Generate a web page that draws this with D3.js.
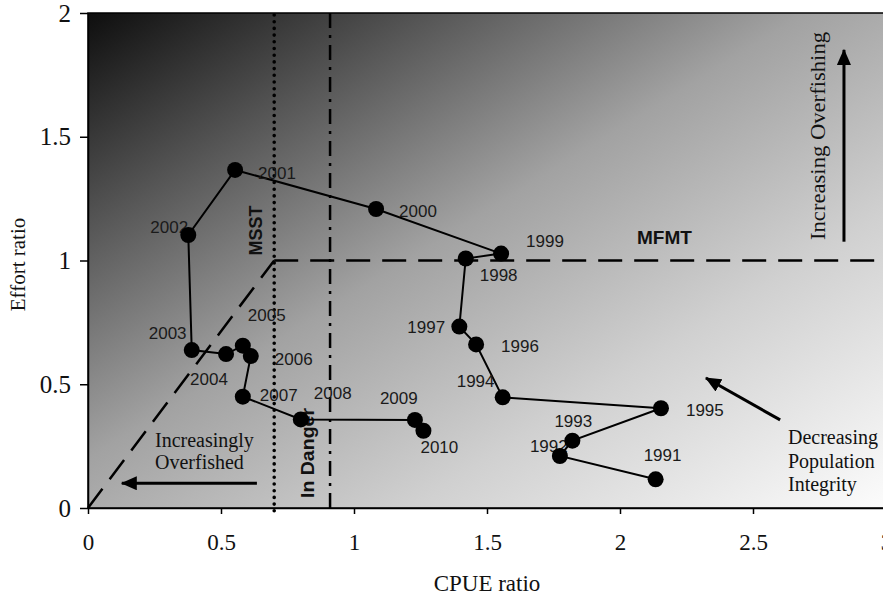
<!DOCTYPE html>
<html><head><meta charset="utf-8">
<script src="https://cdn.jsdelivr.net/npm/d3@7"></script>
<style>body{margin:0;background:#fff} svg{display:block}</style>
</head><body>
<svg id="chart" width="883" height="600"></svg>
<script>
// ---- data (points in the order the line connects them) ----
const yearLabels = ["1991","1992","1993","1995","1994","1996","1997","1998","1999","2000",
                    "2001","2002","2003","2004","2005","2006","2007","2008","2009","2010"];
const cpueRatio  = [2.134,1.774,1.821,2.154,1.559,1.459,1.396,1.420,1.553,1.083,
                    0.553,0.377,0.390,0.519,0.582,0.612,0.582,0.800,1.229,1.261];
const effortRatio= [0.116,0.210,0.272,0.403,0.447,0.661,0.733,1.008,1.028,1.208,
                    1.366,1.103,0.638,0.622,0.656,0.614,0.450,0.358,0.356,0.312];
const xTicks = [0,0.5,1,1.5,2,2.5,3];
const yTicks = [0,0.5,1,1.5,2];
const msst = 0.7;        // MSST (CPUE ratio)
const inDanger = 0.91;   // In Danger (CPUE ratio)
const mfmt = 1;          // MFMT (effort ratio)

// ---- layout ----
const svg = d3.select("#chart");
const x = d3.scaleLinear().domain([0,3]).range([88,886]);
const y = d3.scaleLinear().domain([0,2]).range([508,13]);

// label offsets in px (text left, vertical centre) relative to each point
const labelOff = {
  "1991":[-12,-24],"1992":[-30,-10],"1993":[-18,-20],"1995":[25,2],"1994":[-46,-16],
  "1996":[25,2],"1997":[-52,0],"1998":[14,17],"1999":[25,-13],"2000":[23,2],
  "2001":[23,3],"2002":[-38,-8],"2003":[-43,-17],"2004":[-36,25],"2005":[5,-31],
  "2006":[24,3],"2007":[17,-2],"2008":[13,-26],"2009":[-35,-22],"2010":[-3,16]
};

const defs = svg.append("defs");
const grad = defs.append("linearGradient").attr("id","bg")
  .attr("x1",0).attr("y1",0).attr("x2",1).attr("y2",1);
[[0,"#0e0e0e"],[0.22,"#575757"],[0.45,"#a2a2a2"],[0.7,"#d0d0d0"],[1,"#fcfcfc"]]
  .forEach(([o,c])=>grad.append("stop").attr("offset",o).attr("stop-color",c));

defs.append("marker").attr("id","arrow").attr("markerUnits","userSpaceOnUse")
  .attr("viewBox","0 0 16 14").attr("refX",15).attr("refY",7)
  .attr("markerWidth",16).attr("markerHeight",14).attr("orient","auto")
  .append("path").attr("d","M0,0 L16,7 L0,14 z").attr("fill","#000");

// plot background
svg.append("rect").attr("x",x(0)).attr("y",y(2))
  .attr("width",x(3)-x(0)).attr("height",y(0)-y(2))
  .attr("fill","url(#bg)").attr("stroke","#000").attr("stroke-width",1.5);

// reference lines
const dashStyle = "24 12";
svg.append("line").attr("x1",x(0)).attr("y1",y(0)).attr("x2",x(msst)).attr("y2",y(mfmt))
  .attr("stroke","#000").attr("stroke-width",2.5).attr("stroke-dasharray",dashStyle);
svg.append("line").attr("x1",x(msst)).attr("y1",y(mfmt)).attr("x2",x(3)).attr("y2",y(mfmt))
  .attr("stroke","#000").attr("stroke-width",2.5).attr("stroke-dasharray",dashStyle);
svg.append("line").attr("x1",x(msst)).attr("y1",y(2)+2).attr("x2",x(msst)).attr("y2",y(0)+3)
  .attr("stroke","#000").attr("stroke-width",3.6).attr("stroke-linecap","round")
  .attr("stroke-dasharray","0 6.7");
svg.append("line").attr("x1",x(inDanger)).attr("y1",y(2)).attr("x2",x(inDanger)).attr("y2",y(0))
  .attr("stroke","#000").attr("stroke-width",2.5).attr("stroke-dasharray","15 7 3 7");

// axes
const xAxis = svg.append("g").attr("transform",`translate(0,${y(0)})`)
  .call(d3.axisBottom(x).tickValues(xTicks).tickSize(6).tickSizeOuter(0).tickFormat(d3.format("")));
const yAxis = svg.append("g").attr("transform",`translate(${x(0)},0)`)
  .call(d3.axisLeft(y).tickValues(yTicks).tickSize(8).tickSizeOuter(0).tickFormat(d3.format("")));
[xAxis,yAxis].forEach(g=>{
  g.select(".domain").attr("stroke","#000").attr("stroke-width",1.5);
  g.selectAll(".tick line").attr("stroke","#000").attr("stroke-width",1.5);
  g.selectAll(".tick text").attr("font-family","'Liberation Serif', serif").attr("fill","#111");
});
xAxis.selectAll(".tick text").attr("font-size",23).attr("y",26).attr("dy","0.71em");
yAxis.selectAll(".tick text").attr("font-size",25).attr("x",-17);

// axis titles
svg.append("text").attr("x",(x(0)+x(3))/2).attr("y",591).attr("text-anchor","middle")
  .attr("font-family","'Liberation Serif', serif").attr("font-size",23).attr("fill","#111")
  .text("CPUE ratio");
svg.append("text").attr("transform",`translate(25,${(y(0)+y(2))/2+4}) rotate(-90)`)
  .attr("text-anchor","middle").attr("font-family","'Liberation Serif', serif")
  .attr("font-size",21).attr("fill","#111").text("Effort ratio");

// reference line labels
svg.append("text").attr("transform",`translate(${x(msst)-12},${y(mfmt)-5}) rotate(-90)`)
  .attr("font-family","'Liberation Sans', Arial, sans-serif").attr("font-weight","bold")
  .attr("font-size",18).attr("fill","#111").text("MSST");
svg.append("text").attr("transform",`translate(${x(inDanger)-16},${y(0)-10}) rotate(-90)`)
  .attr("font-family","'Liberation Sans', Arial, sans-serif").attr("font-weight","bold")
  .attr("font-size",18).attr("fill","#111")
  .attr("textLength",90).attr("lengthAdjust","spacingAndGlyphs").text("In Danger");
svg.append("text").attr("x",637).attr("y",y(mfmt)-17)
  .attr("font-family","'Liberation Sans', Arial, sans-serif").attr("font-weight","bold")
  .attr("font-size",19).attr("fill","#111").text("MFMT");

// annotation arrows
const arrows = [
  [[2.842,1.076],[2.842,1.851]],
  [[2.602,0.356],[2.323,0.525]],
  [[0.635,0.1],[0.127,0.1]]
];
arrows.forEach(([a,b])=>svg.append("line")
  .attr("x1",x(a[0])).attr("y1",y(a[1])).attr("x2",x(b[0])).attr("y2",y(b[1]))
  .attr("stroke","#000").attr("stroke-width",3).attr("marker-end","url(#arrow)"));

const serif = "'Liberation Serif', serif";
svg.append("text").attr("transform","translate(825,136) rotate(-90)").attr("text-anchor","middle")
  .attr("font-family",serif).attr("font-size",20).attr("fill","#111")
  .attr("textLength",208).attr("lengthAdjust","spacingAndGlyphs").text("Increasing Overfishing");
const dpi = svg.append("text").attr("font-family",serif).attr("font-size",20).attr("fill","#111");
["Decreasing","Population","Integrity"].forEach((t,i)=>
  dpi.append("tspan").attr("x",788).attr("y",444+i*23.5).text(t));
const io = svg.append("text").attr("font-family",serif).attr("font-size",20).attr("fill","#111");
["Increasingly","Overfished"].forEach((t,i)=>
  io.append("tspan").attr("x",155).attr("y",447+i*22).text(t));

// series
const pts = yearLabels.map((yr,i)=>({yr, cx:cpueRatio[i], ey:effortRatio[i]}));
svg.append("path").datum(pts)
  .attr("d",d3.line().x(d=>x(d.cx)).y(d=>y(d.ey)))
  .attr("fill","none").attr("stroke","#000").attr("stroke-width",2);
svg.append("g").selectAll("text").data(pts).join("text")
  .attr("x",d=>x(d.cx)+labelOff[d.yr][0]).attr("y",d=>y(d.ey)+labelOff[d.yr][1])
  .attr("dy","0.35em").attr("font-family","'Liberation Sans', Arial, sans-serif")
  .attr("font-size",17).attr("fill","#1a1a1a").text(d=>d.yr);
svg.append("g").selectAll("circle").data(pts).join("circle")
  .attr("cx",d=>x(d.cx)).attr("cy",d=>y(d.ey)).attr("r",8).attr("fill","#000");
</script>
</body></html>
